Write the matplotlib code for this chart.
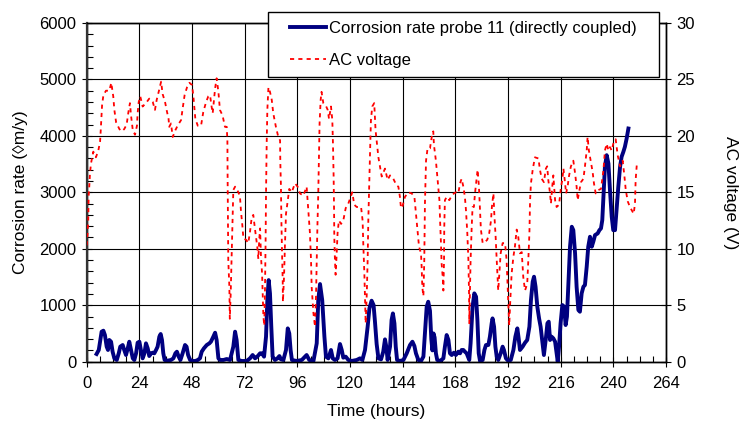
import matplotlib
matplotlib.use("Agg")
import matplotlib.pyplot as plt
from matplotlib.ticker import MultipleLocator
from matplotlib.lines import Line2D
from matplotlib.legend_handler import HandlerBase

plt.rcParams['font.family'] = ['Liberation Sans', 'DejaVu Sans']
plt.rcParams['font.size'] = 12

# AC voltage (V) vs time (hours)
volt_t = [0.0, 0.4, 0.7, 0.8, 0.9, 1.2, 1.5, 2.0, 3.0, 4.2, 5.3, 6.1, 6.4, 6.7, 7.0, 7.6, 8.8, 10.3, 11.2, 12.1,
          12.6, 13.4, 14.9, 16.0, 17.1, 18.2, 19.0, 19.7, 20.2, 21.0, 22.0, 22.9, 23.2, 23.7, 24.4, 25.5, 27.0, 28.5, 30.1, 31.1,
          31.9, 32.8, 33.9, 34.6, 35.7, 36.4, 37.3, 37.6, 38.4, 39.2, 40.4, 41.4, 43.0, 43.7, 44.6, 45.7, 46.8, 48.0, 48.6, 49.5,
          50.6, 52.1, 53.1, 54.4, 55.4, 56.2, 56.9, 57.4, 58.0, 58.5, 59.2, 60.0, 60.7, 61.9, 63.0, 63.8, 64.1, 64.2, 64.4, 64.5,
          65.0, 65.2, 65.6, 66.0, 66.4, 66.8, 67.6, 68.6, 69.8, 70.3, 70.9, 71.4, 72.6, 73.6, 74.4, 75.2, 75.9, 76.7, 77.7, 78.2,
          78.6, 79.0, 79.4, 79.9, 80.2, 80.5, 80.9, 81.2, 81.5, 81.7, 82.0, 82.3, 82.8, 83.5, 84.3, 85.0, 86.2, 87.3, 88.1, 88.2,
          88.5, 88.7, 89.0, 89.3, 89.4, 89.9, 90.3, 90.8, 91.4, 92.3, 93.4, 94.9, 96.1, 97.2, 98.7, 100.2, 101.0, 101.7, 102.2, 102.5,
          103.3, 104.0, 104.5, 104.8, 105.1, 105.5, 105.8, 106.1, 106.6, 107.0, 107.8, 108.9, 109.8, 110.4, 111.3, 111.9, 112.2, 112.5, 112.7, 112.8,
          113.1, 113.4, 113.9, 114.3, 114.9, 115.9, 116.9, 118.0, 119.2, 120.3, 121.0, 121.9, 123.0, 123.8, 125.0, 125.7, 126.0, 126.5, 126.8, 127.1,
          127.6, 128.0, 128.3, 128.8, 129.2, 129.5, 130.1, 131.0, 131.6, 132.1, 132.9, 133.6, 134.4, 135.9, 137.1, 138.2, 139.7, 141.2, 142.0, 142.7,
          143.2, 143.8, 145.0, 146.5, 148.1, 149.3, 150.0, 150.8, 151.4, 152.3, 152.6, 152.9, 153.4, 153.8, 154.1, 154.6, 155.3, 156.4, 157.2, 157.9,
          158.2, 159.1, 159.7, 160.2, 160.7, 161.0, 161.4, 161.7, 162.2, 162.5, 162.8, 162.9, 163.2, 164.0, 165.2, 166.3, 167.3, 168.2, 169.3, 170.1,
          170.8, 171.6, 172.3, 172.8, 173.4, 173.9, 174.2, 174.3, 174.6, 174.9, 175.4, 175.8, 176.4, 176.9, 177.4, 178.1, 178.7, 179.2, 179.6, 180.4,
          181.5, 182.5, 183.4, 184.2, 184.6, 185.3, 185.7, 186.3, 186.8, 187.5, 188.0, 188.6, 189.5, 190.6, 191.3, 191.8, 192.2, 192.5, 193.0, 193.6,
          194.4, 195.1, 195.9, 196.6, 197.4, 198.2, 198.9, 199.7, 200.7, 201.2, 201.7, 202.0, 202.4, 203.2, 204.2, 205.8, 206.5, 207.3, 208.3, 209.2,
          209.8, 210.3, 211.1, 211.5, 212.1, 212.6, 213.4, 214.1, 215.2, 216.1, 216.7, 217.2, 217.9, 218.4, 219.1, 219.7, 220.6, 221.7, 222.5, 223.2,
          223.7, 224.3, 225.2, 226.3, 227.0, 227.8, 228.2, 228.8, 229.6, 230.5, 231.1, 231.9, 233.1, 234.3, 235.4, 236.1, 236.9, 237.7, 238.4, 239.2,
          239.9, 241.0, 241.9, 243.0, 244.2, 245.0, 245.6, 246.5, 247.5, 248.6, 249.2, 249.8, 250.1, 250.6]
volt_v = [10.3, 11.4, 12.5, 13.7, 14.7, 15.6, 16.7, 17.6, 18.6, 18.1, 18.7, 19.5, 20.5, 21.7, 22.7, 23.6, 24.0, 24.0, 24.7, 23.5,
          22.3, 21.2, 20.6, 20.4, 20.6, 21.0, 22.1, 22.9, 21.8, 20.5, 20.1, 20.9, 22.0, 23.0, 23.5, 22.6, 22.9, 23.3, 23.0, 22.3,
          23.2, 23.9, 24.8, 23.7, 23.0, 22.3, 21.5, 20.8, 21.1, 19.9, 20.5, 20.9, 21.4, 22.4, 23.6, 24.3, 24.7, 24.5, 23.5, 21.5,
          20.9, 20.9, 22.1, 23.0, 23.5, 23.6, 22.6, 22.0, 23.2, 24.2, 25.1, 23.9, 22.3, 21.8, 20.8, 20.8, 19.6, 16.4, 11.9, 9.0,
          6.6, 3.8, 6.0, 9.0, 11.9, 15.2, 15.5, 15.2, 14.7, 13.3, 12.1, 10.9, 10.8, 10.5, 11.5, 12.8, 13.0, 11.7, 10.2, 9.1,
          10.8, 11.8, 9.3, 7.8, 6.0, 4.0, 3.2, 6.0, 10.5, 14.9, 19.3, 22.3, 24.3, 23.9, 23.2, 22.0, 20.8, 19.9, 19.6, 17.8,
          15.5, 12.5, 9.6, 7.2, 5.3, 7.5, 10.2, 13.1, 14.0, 15.3, 15.0, 15.8, 15.5, 14.9, 14.7, 15.5, 13.3, 11.4, 9.0, 6.6,
          4.3, 3.1, 6.0, 9.0, 11.9, 14.9, 17.8, 21.1, 23.2, 23.9, 22.9, 22.7, 22.3, 21.5, 22.6, 21.4, 19.3, 16.4, 13.4, 11.1,
          9.0, 7.7, 9.6, 11.4, 12.5, 12.2, 12.5, 13.6, 14.0, 14.6, 15.0, 13.9, 13.7, 13.7, 13.7, 12.5, 10.5, 7.8, 5.5, 3.4,
          6.0, 9.0, 12.5, 16.4, 19.3, 21.4, 22.6, 22.9, 20.5, 19.6, 18.1, 17.3, 16.4, 17.1, 16.1, 16.5, 16.2, 15.6, 15.5, 14.6,
          13.6, 13.7, 14.6, 15.0, 14.9, 14.6, 13.1, 11.4, 10.2, 9.6, 8.4, 6.6, 5.8, 9.0, 14.0, 17.8, 18.9, 18.9, 19.9, 20.4,
          19.2, 17.8, 16.5, 15.5, 14.3, 12.5, 10.5, 8.7, 7.5, 6.3, 9.0, 11.9, 14.3, 14.6, 14.3, 14.7, 14.9, 15.0, 14.9, 15.8,
          16.2, 15.5, 14.6, 13.4, 11.4, 9.0, 6.0, 3.4, 6.0, 9.0, 11.9, 13.7, 13.7, 14.9, 15.8, 17.0, 15.5, 13.4, 11.7, 10.5,
          10.6, 10.8, 11.4, 12.5, 13.7, 14.9, 13.1, 11.1, 9.0, 6.3, 7.8, 9.6, 10.5, 10.5, 9.0, 6.6, 4.6, 3.2, 5.5, 7.8,
          9.3, 10.2, 11.7, 11.1, 9.6, 9.7, 7.5, 6.3, 6.9, 9.0, 11.4, 14.3, 15.8, 17.0, 18.1, 18.0, 17.0, 16.2, 15.9, 17.1,
          17.3, 16.1, 14.9, 14.0, 15.5, 16.5, 14.3, 13.7, 13.9, 15.5, 16.1, 17.1, 15.9, 14.9, 15.5, 16.4, 17.3, 17.8, 16.7, 15.5,
          14.3, 15.0, 15.9, 16.2, 17.3, 18.7, 19.9, 18.7, 17.8, 16.8, 15.8, 14.9, 15.2, 15.3, 16.9, 18.7, 19.3, 18.7, 19.0, 18.7,
          19.3, 19.7, 18.3, 17.3, 17.8, 16.4, 15.2, 14.2, 13.7, 13.3, 13.1, 14.0, 16.1, 17.4]

# Corrosion rate (um/y) vs time (hours)
corr_t = [4.5, 5.5, 6.1, 6.8, 7.6, 8.3, 9.1, 9.7, 10.3, 11.1, 11.8, 12.6, 13.7, 14.6, 15.3, 16.4, 17.1, 17.9, 18.7, 19.4,
          20.2, 21.0, 21.7, 22.5, 23.2, 24.0, 24.7, 25.5, 26.3, 27.0, 27.8, 28.5, 29.3, 30.1, 30.8, 31.6, 32.3, 33.1, 33.7, 34.3,
          34.9, 35.5, 36.9, 38.4, 39.5, 40.4, 41.1, 41.9, 42.7, 43.7, 44.8, 45.5, 46.2, 47.1, 48.3, 49.5, 50.6, 51.6, 52.4, 53.4,
          54.7, 55.9, 56.6, 57.7, 58.5, 59.2, 60.0, 60.7, 62.3, 63.8, 65.3, 66.8, 67.6, 68.3, 69.1, 70.6, 72.9, 74.4, 75.6, 76.7,
          77.7, 79.0, 79.9, 80.8, 81.7, 82.3, 82.9, 83.5, 84.1, 84.7, 85.8, 86.9, 87.8, 88.5, 89.6, 90.8, 91.6, 92.3, 92.9, 93.5,
          95.7, 98.0, 99.0, 100.2, 101.4, 103.3, 104.8, 105.5, 106.3, 107.3, 108.3, 109.0, 110.1, 111.3, 112.1, 113.1, 114.3, 115.4, 116.2, 116.9,
          118.0, 119.2, 120.7, 123.0, 124.5, 125.6, 126.8, 128.0, 128.8, 129.8, 130.7, 131.3, 132.1, 132.9, 134.1, 135.1, 135.9, 136.5, 137.1, 138.2,
          138.9, 139.5, 140.2, 140.8, 141.4, 142.7, 144.3, 145.8, 147.3, 148.4, 149.3, 150.0, 151.1, 152.3, 153.4, 154.1, 154.9, 155.6, 156.4, 157.0,
          157.5, 158.0, 158.5, 159.1, 159.7, 161.0, 162.5, 163.2, 164.0, 164.8, 165.5, 166.3, 167.3, 168.2, 169.3, 170.1, 170.8, 171.6, 172.3, 173.1,
          174.3, 174.9, 175.8, 176.6, 177.4, 178.0, 178.6, 179.2, 180.4, 181.2, 181.9, 183.0, 183.7, 184.5, 184.9, 185.6, 186.2, 186.8, 187.5, 188.6,
          189.5, 190.1, 191.0, 192.1, 193.2, 194.4, 195.3, 196.2, 196.8, 197.4, 198.6, 199.7, 200.7, 201.7, 202.4, 203.2, 203.8, 204.5, 205.3, 206.1,
          206.8, 207.7, 208.3, 209.2, 209.9, 210.5, 211.1, 211.8, 212.6, 213.4, 214.1, 214.6, 215.2, 215.9, 216.7, 217.5, 218.2, 218.8, 219.4, 220.2,
          221.0, 221.7, 222.5, 223.2, 224.0, 224.7, 225.5, 226.3, 227.0, 227.8, 228.5, 229.3, 230.1, 230.8, 231.6, 232.8, 233.6, 234.3, 234.9, 235.5,
          236.1, 236.9, 237.7, 238.4, 239.2, 239.9, 240.7, 241.4, 242.2, 243.0, 243.7, 244.5, 245.2, 246.0, 246.8]
corr_v = [136, 207, 354, 531, 549, 472, 266, 207, 384, 354, 177, 59, 30, 148, 266, 295, 207, 118, 236, 354,
          207, 59, 30, 148, 336, 354, 207, 59, 148, 325, 236, 100, 148, 159, 148, 207, 266, 443, 490, 384,
          148, 30, 18, 30, 59, 148, 177, 89, 30, 148, 295, 266, 118, 30, 12, 12, 30, 59, 177, 236,
          295, 325, 354, 443, 513, 384, 59, 30, 30, 47, 30, 266, 531, 384, 30, 12, 12, 59, 118, 59,
          89, 148, 148, 89, 443, 1090, 1445, 1210, 620, 89, 30, 59, 100, 41, 30, 207, 590, 500, 207, 30,
          12, 30, 71, 118, 30, 12, 325, 1090, 1375, 1090, 443, 89, 59, 207, 59, 30, 59, 313, 207, 71,
          89, 30, 12, 30, 59, 30, 207, 620, 944, 1080, 1003, 726, 313, 59, 41, 177, 395, 266, 30, 266,
          738, 855, 679, 266, 30, 12, 30, 148, 295, 354, 277, 148, 30, 12, 89, 502, 974, 1062, 900, 400,
          200, 500, 430, 148, 30, 12, 59, 266, 472, 384, 148, 118, 159, 118, 177, 148, 207, 207, 177, 148,
          30, 325, 974, 1210, 1150, 738, 148, 12, 30, 207, 295, 295, 443, 679, 767, 620, 266, 89, 30, 148,
          266, 207, 59, 12, 30, 207, 443, 590, 413, 207, 266, 336, 384, 620, 1090, 1416, 1505, 1327, 974, 767,
          620, 325, 118, 413, 680, 708, 384, 443, 413, 354, 148, 0, 266, 679, 1003, 974, 649, 797, 1328, 2036,
          2390, 2330, 1918, 1328, 915, 885, 1210, 1328, 1357, 1682, 2036, 2213, 2036, 2124, 2242, 2272, 2330, 2360, 2508, 2980,
          3452, 3658, 3510, 3039, 2567, 2330, 2330, 2685, 3098, 3452, 3629, 3717, 3806, 3953, 4130]

x_ticks = list(range(0, 265, 24))
series_labels = ["Corrosion rate probe 11 (directly coupled)", "AC voltage"]

blue = "#000080"
red = "#FF0000"
red_dash = (0, (2.3, 2.3))


class InsetLineHandler(HandlerBase):
    """Legend handle drawn only in the right part of the handle box."""
    def create_artists(self, legend, orig_handle, xdescent, ydescent,
                       width, height, fontsize, trans):
        x0 = -xdescent + width * 0.27
        x1 = -xdescent + width
        y = -ydescent + height / 2.0
        line = Line2D([x0, x1], [y, y])
        line.update_from(orig_handle)
        line.set_transform(trans)
        return [line]


fig = plt.figure(figsize=(7.41, 4.25), dpi=100)
ax = fig.add_axes([0.117, 0.149, 0.782, 0.797])
ax2 = ax.twinx()

ax.plot(corr_t, corr_v, color=blue, lw=2.8, solid_joinstyle='round', zorder=3)
ax2.plot(volt_t, volt_v, color=red, lw=1.3, linestyle=red_dash, zorder=3)

ax.set_xlim(0, 264)
ax.set_ylim(0, 6000)
ax2.set_ylim(0, 30)
ax.set_xticks(x_ticks)
ax.xaxis.set_minor_locator(MultipleLocator(6))
ax.yaxis.set_major_locator(MultipleLocator(1000))
ax.yaxis.set_minor_locator(MultipleLocator(200))
ax2.yaxis.set_major_locator(MultipleLocator(5))

ax.grid(True, which='major', color='black', lw=0.8)
ax.set_axisbelow(True)

for a in (ax, ax2):
    for s in a.spines.values():
        s.set_color('black')
        s.set_linewidth(1.0)
ax2.spines['left'].set_linewidth(1.6)
ax2.spines['left'].set_color('#333333')
ax.tick_params(which='major', direction='inout', length=7, width=0.8, labelsize=12, pad=4)
ax.tick_params(which='minor', direction='in', length=4, width=0.8)
ax.tick_params(axis='x', which='major', pad=7)
ax2.tick_params(which='major', direction='inout', length=7, width=0.8, labelsize=12, pad=4)

ax.set_xlabel("Time (hours)", fontsize=12.5, labelpad=9)
ax.set_ylabel("Corrosion rate (\u25CAm/y)", fontsize=12.5, labelpad=8)
ax2.set_ylabel("AC voltage (V)", fontsize=12.5, rotation=270, labelpad=31)

handles = [Line2D([], [], color=blue, lw=2.8),
           Line2D([], [], color=red, lw=1.3, linestyle=red_dash)]
leg = ax2.legend(handles, series_labels, loc='upper left',
                 bbox_to_anchor=(0.362, 0.824, 0.527, 0.148), bbox_transform=fig.transFigure,
                 mode='expand', borderaxespad=0, frameon=True, fancybox=False,
                 edgecolor='black', framealpha=1, fontsize=12, handlelength=2.9,
                 handletextpad=0.2, labelspacing=1.0, borderpad=0.55,
                 handler_map={Line2D: InsetLineHandler()})
leg.get_frame().set_linewidth(1.0)
leg.set_zorder(10)

fig.savefig("out.png", dpi=100)
